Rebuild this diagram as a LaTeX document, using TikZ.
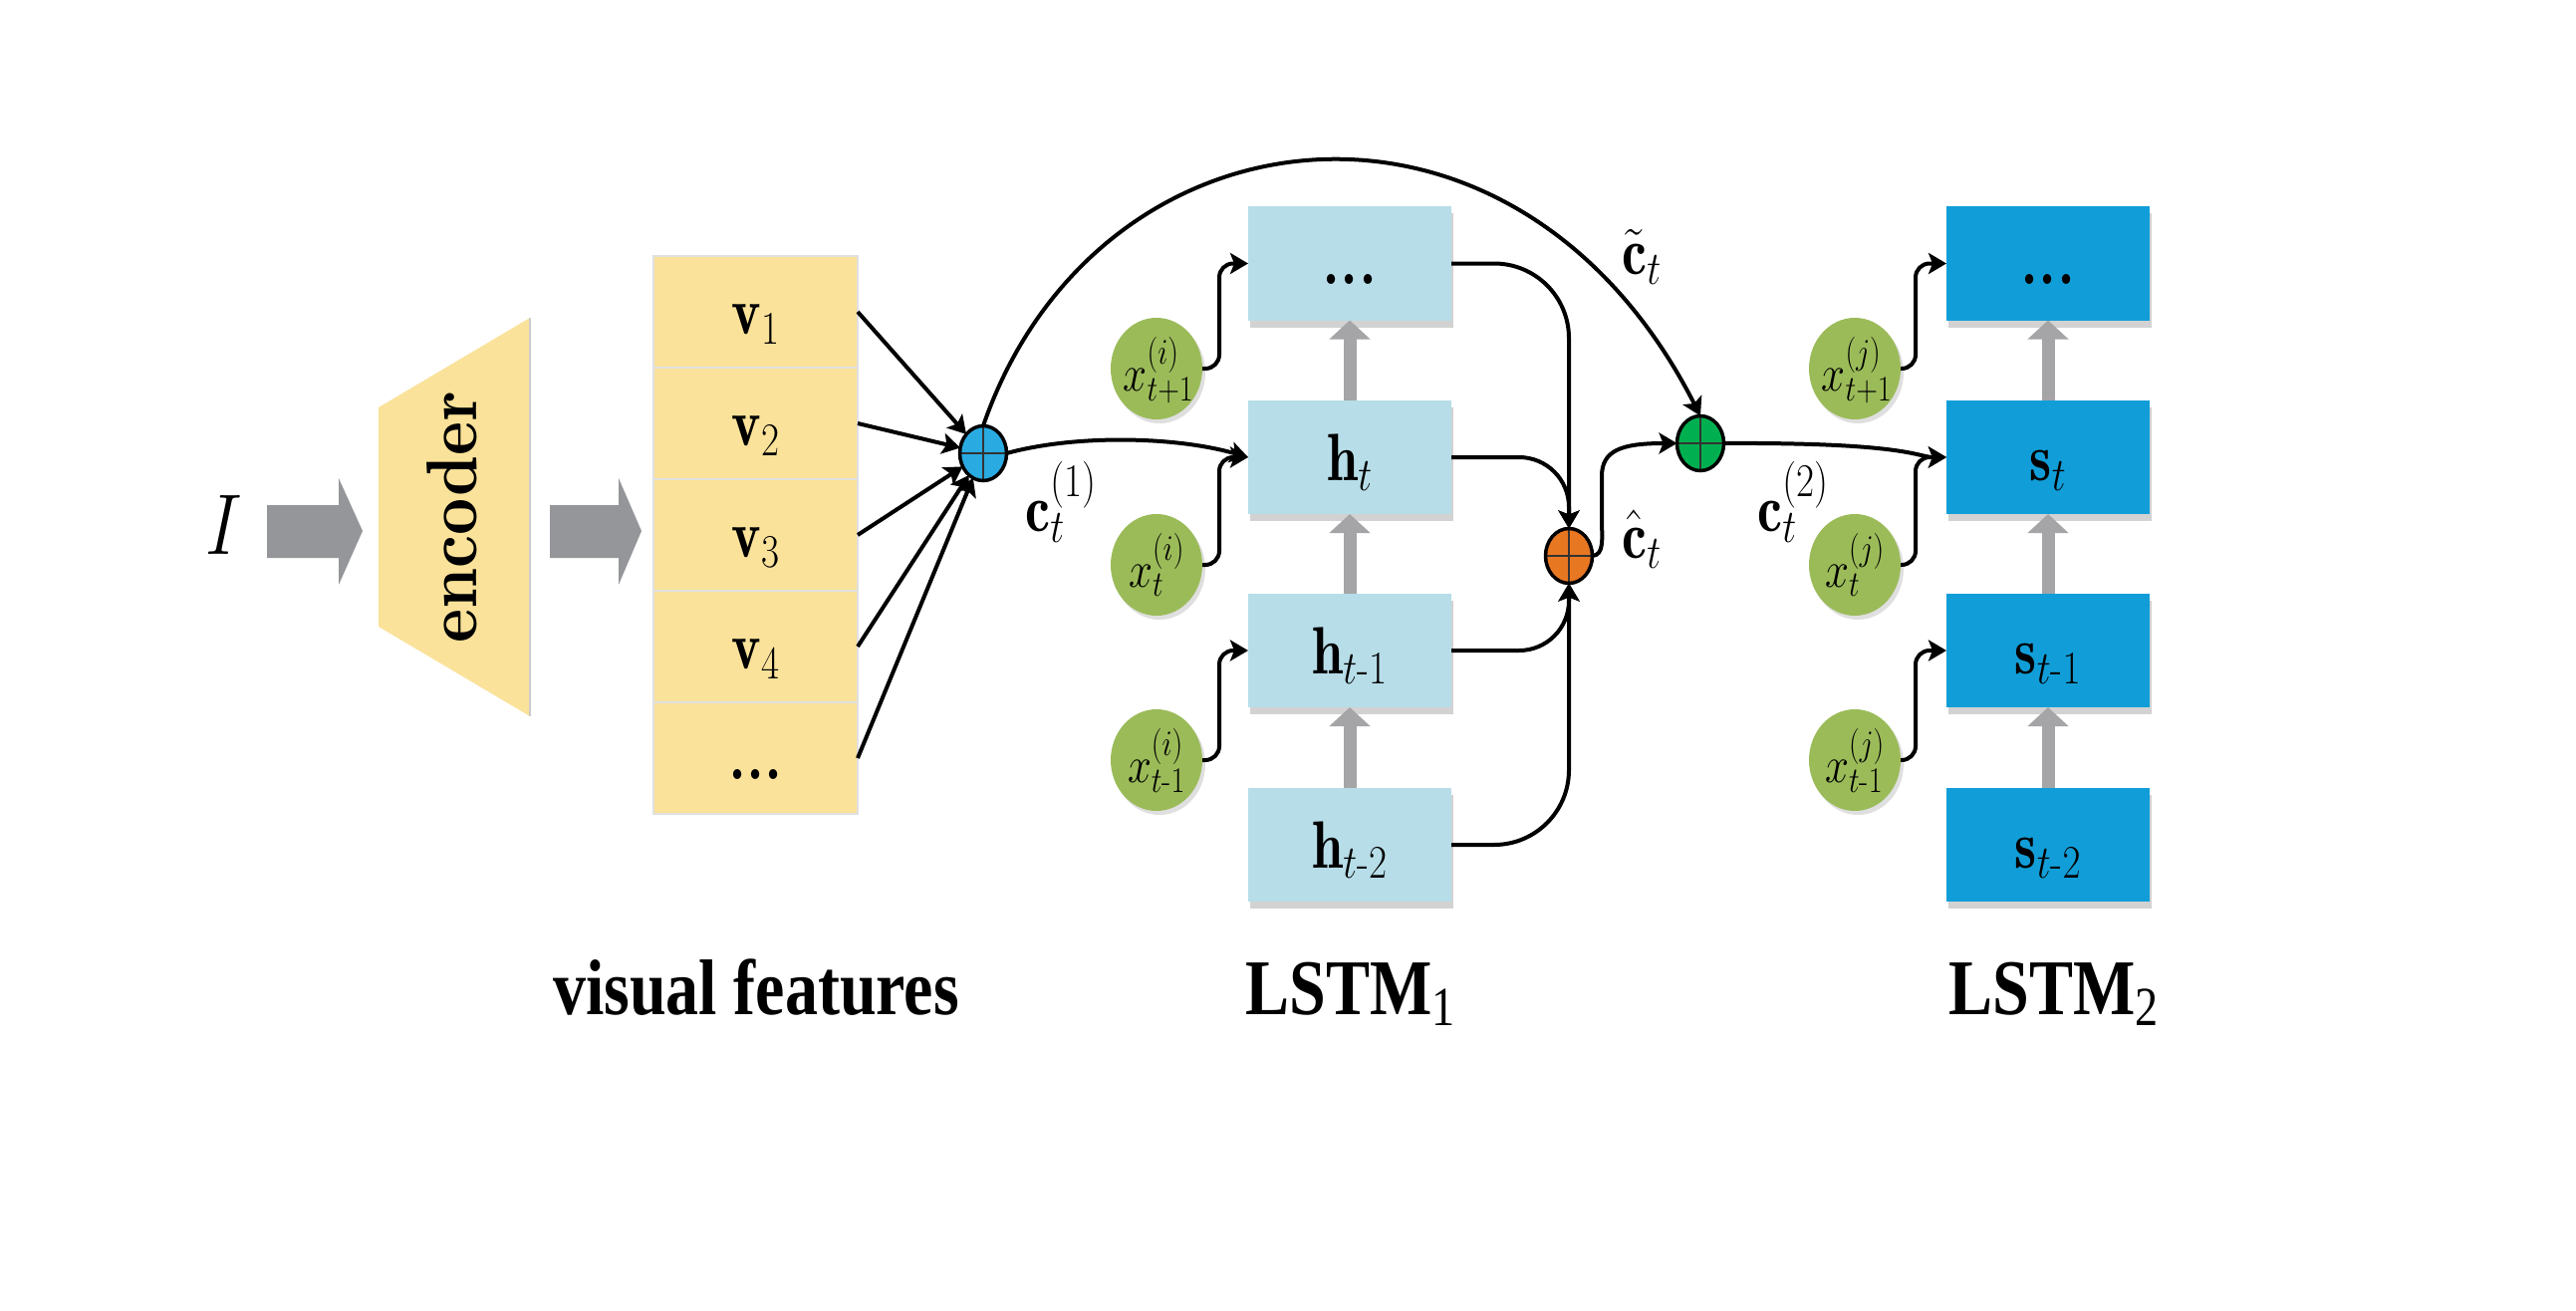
\RequirePackage{fix-cm}
\documentclass[tikz,border=0pt]{standalone}
\usepackage{fontspec}
\usepackage{amsmath}
\usepackage{graphicx}
\newfontfamily\timesfont{Liberation Serif}
\usetikzlibrary{arrows.meta,shapes.geometric,shadows,calc}
\definecolor{featyellow}{RGB}{250,226,154}
\definecolor{lstmone}{RGB}{183,221,232}
\definecolor{lstmtwo}{RGB}{17,158,216}
\definecolor{xgreen}{RGB}{155,187,89}
\definecolor{sumblue}{RGB}{41,171,226}
\definecolor{sumorange}{RGB}{232,119,34}
\definecolor{sumgreen}{RGB}{0,176,80}
\definecolor{blockgray}{RGB}{148,150,153}
\definecolor{upgray}{RGB}{165,165,168}
\newcommand{\vst}[1]{\scalebox{1}[1.2]{#1}}
\newcommand{\myfs}[1]{\fontsize{#1}{#1}\selectfont}
\begin{document}
\begin{tikzpicture}[x=1pt,y=-1pt,
  every node/.style={inner sep=0pt, outer sep=0pt},
  conn/.style={line width=4pt, -{Stealth[length=18pt,width=21pt,inset=4pt]}},
  feat/.style={rectangle, draw=black!12, line width=1.5pt, fill=featyellow, minimum width=205pt, minimum height=112pt},
  lstmbox/.style={rectangle, minimum width=204pt, minimum height=114pt, drop shadow={shadow xshift=2pt, shadow yshift=-7pt, opacity=0.35}},
  hbox/.style={lstmbox, fill=lstmone},
  sbox/.style={lstmbox, fill=lstmtwo},
  xin/.style={ellipse, fill=xgreen, minimum width=92pt, minimum height=102pt, drop shadow={shadow xshift=3pt, shadow yshift=-4pt, opacity=0.25}},
  sumnode/.style={ellipse, draw=black, line width=3.5pt, minimum width=47pt, minimum height=55pt,
     path picture={\draw[black!80, line width=2.5pt] (path picture bounding box.north) -- (path picture bounding box.south) (path picture bounding box.west) -- (path picture bounding box.east);}},
  uparrow/.style={line width=13pt, draw=upgray, -{Triangle[length=19pt,width=40pt]}},
  lbl/.style={font=\myfs{56}},
  boxlbl/.style={font=\myfs{56}, anchor=base},
  dotlbl/.style={font=\myfs{58}\bfseries, anchor=base},
  xlbl/.style={font=\myfs{43}, anchor=base},
  bottomlbl/.style={font=\timesfont\bfseries\myfs{66}, anchor=base},
  blockarrow/.style={fill=blockgray}
]
\path[fill=white] (0,0) rectangle (2586,1316);
\useasboundingbox (0,0) rectangle (2586,1316);

% input and encoder
\node[font=\myfs{72}] (img) at (225,527) {\vst{$I$}};
\fill[blockarrow] (268,507) -- (340,507) -- (340,480) -- (364,533) -- (340,587) -- (340,560) -- (268,560) -- cycle;
\fill[featyellow] (380,409) -- (532,319) -- (532,719) -- (380,629) -- cycle;
\draw[black!20, line width=2pt] (532,319) -- (532,719);
\node[rotate=90] (enc) at (454,519) {\scalebox{6.45}[7.2]{\normalsize\bfseries encoder}};
\fill[blockarrow] (552,507) -- (621,507) -- (621,480) -- (644,533) -- (621,587) -- (621,560) -- (552,560) -- cycle;

% visual features
\node[feat] (f1) at (758.5,313) {};
\node[feat] (f2) at (758.5,425) {};
\node[feat] (f3) at (758.5,537) {};
\node[feat] (f4) at (758.5,649) {};
\node[feat] (f5) at (758.5,761) {};
\node[boxlbl] (tf1) at ($(f1.center)+(0,22)$) {\vst{$\mathbf{v}_1$}};
\node[boxlbl] (tf2) at ($(f2.center)+(0,22)$) {\vst{$\mathbf{v}_2$}};
\node[boxlbl] (tf3) at ($(f3.center)+(0,22)$) {\vst{$\mathbf{v}_3$}};
\node[boxlbl] (tf4) at ($(f4.center)+(0,22)$) {\vst{$\mathbf{v}_4$}};
\node[dotlbl] (tf5) at ($(f5.center)+(0,21)$) {\vst{...}};

% LSTM1
\node[hbox] (hd) at (1355,264.5) {};
\node[hbox] (h0) at (1355,459) {};
\node[hbox] (h1) at (1355,653) {};
\node[hbox] (h2) at (1355,848) {};
\node[dotlbl] (thd) at ($(hd.center)+(0,21)$) {\vst{...}};
\node[boxlbl] (th0) at ($(h0.center)+(0,23)$) {\vst{$\mathbf{h}_t$}};
\node[boxlbl] (th1) at ($(h1.center)+(0,23)$) {\vst{$\mathbf{h}_{t\text{-}1}$}};
\node[boxlbl] (th2) at ($(h2.center)+(0,23)$) {\vst{$\mathbf{h}_{t\text{-}2}$}};

% LSTM2
\node[sbox] (sd) at (2056,264.5) {};
\node[sbox] (s0) at (2056,459) {};
\node[sbox] (s1) at (2056,653) {};
\node[sbox] (s2) at (2056,848) {};
\node[dotlbl] (tsd) at ($(sd.center)+(0,21)$) {\vst{...}};
\node[boxlbl] (ts0) at ($(s0.center)+(0,23)$) {\vst{$\mathbf{s}_t$}};
\node[boxlbl] (ts1) at ($(s1.center)+(0,23)$) {\vst{$\mathbf{s}_{t\text{-}1}$}};
\node[boxlbl] (ts2) at ($(s2.center)+(0,23)$) {\vst{$\mathbf{s}_{t\text{-}2}$}};

% vertical gray arrows
\draw[uparrow] (h2.north) -- (h1.south);
\draw[uparrow] (h1.north) -- (h0.south);
\draw[uparrow] (h0.north) -- (hd.south);
\draw[uparrow] (s2.north) -- (s1.south);
\draw[uparrow] (s1.north) -- (s0.south);
\draw[uparrow] (s0.north) -- (sd.south);

% word inputs
\node[xin] (xi0) at (1161,370) {};
\node[xin] (xi1) at (1161,567) {};
\node[xin] (xi2) at (1161,763) {};
\node[xin] (xj0) at (1862,370) {};
\node[xin] (xj1) at (1862,567) {};
\node[xin] (xj2) at (1862,763) {};
\node[xlbl] (txi0) at ($(xi0.center)+(2,22)$) {\vst{$x^{(i)}_{t+1}$}};
\node[xlbl] (txi1) at ($(xi1.center)+(0,22)$) {\vst{$x^{(i)}_{t}$}};
\node[xlbl] (txi2) at ($(xi2.center)+(0,22)$) {\vst{$x^{(i)}_{t\text{-}1}$}};
\node[xlbl] (txj0) at ($(xj0.center)+(2,22)$) {\vst{$x^{(j)}_{t+1}$}};
\node[xlbl] (txj1) at ($(xj1.center)+(0,22)$) {\vst{$x^{(j)}_{t}$}};
\node[xlbl] (txj2) at ($(xj2.center)+(0,22)$) {\vst{$x^{(j)}_{t\text{-}1}$}};

% sum nodes
\node[sumnode, fill=sumblue] (sumA) at (987,455) {};
\node[sumnode, fill=sumorange] (sumB) at (1575,558) {};
\node[sumnode, fill=sumgreen] (sumC) at (1707,445) {};

% features to attention sum
\draw[conn] (f1.east) -- (sumA);
\draw[conn] (f2.east) -- (sumA);
\draw[conn] (f3.east) -- (sumA);
\draw[conn] (f4.east) -- (sumA);
\draw[conn] (f5.east) -- (sumA);

% c1 to h_t, big arc
\draw[conn] (sumA.east) .. controls (1080,436) and (1180,438) .. (h0.west);
\draw[conn] (sumA.north) .. controls (1100,100) and (1520,50) .. (sumC.north);

% x inputs to boxes
\draw[conn, rounded corners=14pt] (xi0.east) -- ++(17,0) |- (hd.west);
\draw[conn, rounded corners=14pt] (xi1.east) -- ++(17,0) |- (h0.west);
\draw[conn, rounded corners=14pt] (xi2.east) -- ++(17,0) |- (h1.west);
\draw[conn, rounded corners=14pt] (xj0.east) -- ++(15,0) |- (sd.west);
\draw[conn, rounded corners=14pt] (xj1.east) -- ++(15,0) |- (s0.west);
\draw[conn, rounded corners=14pt] (xj2.east) -- ++(15,0) |- (s1.west);

% LSTM1 states to orange sum
\draw[conn, rounded corners=75pt] (hd.east) -| (sumB.north);
\draw[conn, rounded corners=50pt] (h0.east) -| (sumB.north);
\draw[conn, rounded corners=50pt] (h1.east) -| (sumB.south);
\draw[conn, rounded corners=75pt] (h2.east) -| (sumB.south);

% orange to green, green to s_t
\draw[conn] (sumB.east) .. controls (1611,557) and (1608,540) .. (1608,520) -- (1608,478) .. controls (1608,452) and (1628,445) .. (sumC.west);
\draw[conn] (sumC.east) .. controls (1915,444) and (1925,459) .. (s0.west);

% labels
\node[lbl] (lc1) at (1065,504) {\vst{$\mathbf{c}_t^{(1)}$}};
\node[lbl] (lctil) at (1648,258) {\vst{$\tilde{\mathbf{c}}_t$}};
\node[lbl] (lchat) at (1648,541) {\vst{$\hat{\mathbf{c}}_t$}};
\node[lbl] (lc2) at (1800,504) {\vst{$\mathbf{c}_t^{(2)}$}};

\node[bottomlbl] (lvf) at (759,1018) {\vst{visual features}};
\node[bottomlbl] (ll1) at (1356,1018) {\vst{LSTM\textsubscript{\mdseries 1}}};
\node[bottomlbl] (ll2) at (2062,1018) {\vst{LSTM\textsubscript{\mdseries 2}}};
\end{tikzpicture}
\end{document}
